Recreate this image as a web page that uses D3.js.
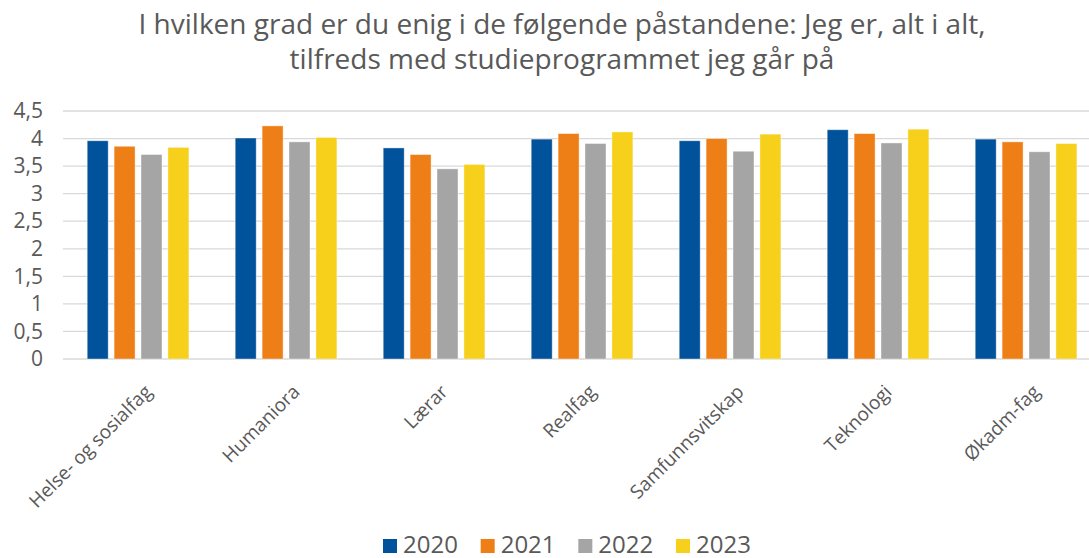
<!DOCTYPE html>
<html>
<head>
<meta charset="utf-8">
<script src="https://cdn.jsdelivr.net/npm/d3@7"></script>
<style>
  body { margin: 0; background: #fff; }
  svg { font-family: "Open Sans", "Noto Sans", sans-serif; }
</style>
</head>
<body>
<svg id="chart" width="1089" height="558"></svg>
<script>
// categories and series
const categories = ["Helse- og sosialfag", "Humaniora", "Lærar", "Realfag", "Samfunnsvitskap", "Teknologi", "Økadm-fag"];
const years = ["2020", "2021", "2022", "2023"];
const values2020 = [3.96, 4.01, 3.83, 3.99, 3.96, 4.16, 3.99];
const values2021 = [3.86, 4.23, 3.71, 4.09, 4.00, 4.09, 3.94];
const values2022 = [3.71, 3.94, 3.45, 3.91, 3.77, 3.92, 3.76];
const values2023 = [3.84, 4.02, 3.53, 4.12, 4.08, 4.17, 3.91];
const yTicks = [0, 0.5, 1, 1.5, 2, 2.5, 3, 3.5, 4, 4.5];
const colors = ["#00529B", "#EE7F16", "#A5A5A5", "#F6D01A"];
const titleLines = ["I hvilken grad er du enig i de følgende påstandene: Jeg er, alt i alt,",
                    "tilfreds med studieprogrammet jeg går på"];

const series = [values2020, values2021, values2022, values2023];
const rows = categories.map((c, i) => ({ cat: c, vals: years.map((y, j) => ({ year: y, v: series[j][i] })) }));

const svg = d3.select("#chart");
const margin = {top: 111, left: 64, bottom: 199};
const plotRight = 1100;
const height = 558 - margin.top - margin.bottom;

// title
svg.append("g").selectAll("text")
    .data(titleLines)
    .enter()
    .append("text")
    .attr("x", 562)
    .attr("y", (d, i) => 34 + i * 35)
    .attr("text-anchor", "middle")
    .attr("font-size", 28)
    .attr("fill", "#595959")
    .text(d => d);

const x0 = d3.scaleBand().domain(categories).range([margin.left, plotRight]).padding(0);
const x1 = d3.scaleBand().domain(years).range([23.2, 124.9]).paddingInner(0.22);
const y = d3.scaleLinear().domain([0, 4.5]).range([margin.top + height, margin.top]);

// gridlines
svg.append("g").selectAll("line")
    .data(yTicks)
    .enter()
    .append("line")
    .attr("x1", margin.left - 1)
    .attr("x2", 1089)
    .attr("y1", d => y(d))
    .attr("y2", d => y(d))
    .attr("stroke", "#D9D9D9")
    .attr("stroke-width", 1.3);

// y axis labels
const yAxis = d3.axisLeft(y).tickValues(yTicks).tickSize(0).tickPadding(0)
    .tickFormat(d => String(d).replace(".", ","));
const yg = svg.append("g")
    .attr("transform", "translate(43,0)")
    .call(yAxis);
yg.select(".domain").remove();
yg.selectAll("text")
    .attr("font-family", "'Open Sans', sans-serif")
    .attr("font-size", 21)
    .attr("fill", "#595959");

// bars
const groups = svg.append("g").selectAll("g")
    .data(rows)
    .enter()
    .append("g")
    .attr("transform", d => "translate(" + x0(d.cat) + ",0)");

groups.selectAll("rect")
    .data(d => d.vals)
    .enter()
    .append("rect")
    .attr("x", d => x1(d.year))
    .attr("y", d => y(d.v))
    .attr("width", x1.bandwidth())
    .attr("height", d => y(0) - y(d.v))
    .attr("fill", (d, i) => colors[i])
    .attr("stroke", "#ffffff")
    .attr("stroke-opacity", 0.5)
    .attr("stroke-width", 0.8);

// x labels
const xAxis = d3.axisBottom(x0).tickSize(0).tickPadding(0);
const xg = svg.append("g")
    .attr("transform", "translate(0," + (margin.top + height) + ")")
    .call(xAxis);
xg.select(".domain").remove();
xg.selectAll("text")
    .attr("font-family", "'Open Sans', sans-serif")
    .attr("font-size", 19)
    .attr("fill", "#595959")
    .attr("text-anchor", "end")
    .attr("dy", 0)
    .attr("transform", "translate(15,34) rotate(-45)");

// legend
const legendX = d3.scalePoint().domain(years).range([383, 676]);
const legend = svg.append("g").selectAll("g")
    .data(years)
    .enter()
    .append("g")
    .attr("transform", d => "translate(" + legendX(d) + ",539)");
legend.append("rect")
    .attr("width", 14)
    .attr("height", 14)
    .attr("fill", (d, i) => colors[i]);
legend.append("text")
    .attr("x", 20)
    .attr("y", 13.5)
    .attr("font-size", 24)
    .attr("fill", "#595959")
    .text(d => d);
</script>
</body>
</html>
